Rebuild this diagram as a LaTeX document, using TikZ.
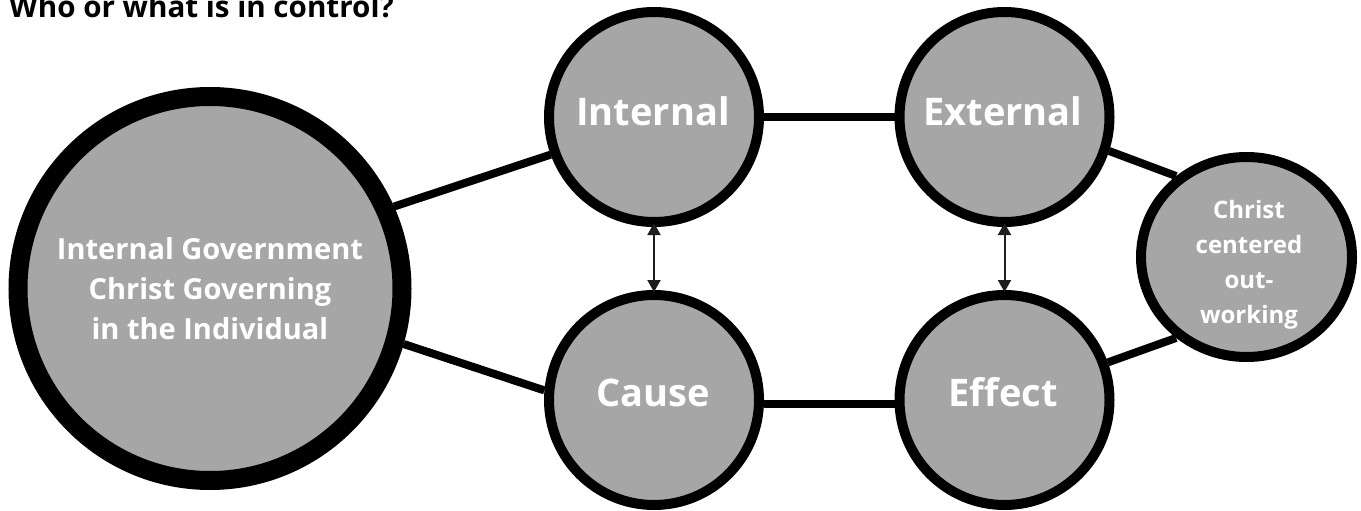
\documentclass[tikz,border=0pt]{standalone}
\usepackage{fontspec}
\setmainfont{Open Sans}
\usetikzlibrary{arrows.meta,shapes.geometric}
\definecolor{circfill}{HTML}{A6A6A6}
\definecolor{arrowcol}{HTML}{1E1E1E}
\tikzset{
  circ/.style={circle, draw=black, fill=circfill, line width=10pt, minimum size=210pt, inner sep=0pt},
  bigcirc/.style={circle, draw=black, fill=circfill, line width=19pt, minimum size=384pt, inner sep=0pt},
  ovalcirc/.style={ellipse, draw=black, fill=circfill, line width=10pt, minimum width=211pt, minimum height=200pt, inner sep=0pt},
  lbl/.style={text=white, font=\bfseries\fontsize{38}{46}\selectfont, anchor=base, inner sep=0pt},
  biglbl/.style={text=white, font=\bfseries\fontsize{29}{40}\selectfont, align=center, anchor=base, inner sep=0pt},
  smalllbl/.style={text=white, font=\bfseries\fontsize{24}{35}\selectfont, align=center, anchor=base, inner sep=0pt},
  conn/.style={line width=8pt, draw=black},
  dblarrow/.style={line width=2pt, draw=arrowcol, {Triangle[length=12pt,width=13pt]}-{Triangle[length=12pt,width=13pt]}},
}
\begin{document}
\begin{tikzpicture}[x=1pt,y=-1pt]
\useasboundingbox (0,0) rectangle (1361,511);
% title
\node[anchor=base west, inner sep=0pt, font=\bfseries\fontsize{29.6}{34}\selectfont] (title) at (9,18) {Who or what is in control?};
% circles
\node[bigcirc] (big) at (210,288.5) {};
\node[circ] (int) at (654,117) {};
\node[circ] (ext) at (1004.5,117) {};
\node[circ] (cause) at (654,400) {};
\node[circ] (eff) at (1004.5,400) {};
\node[ovalcirc] (chr) at (1246.5,257) {};
% connectors
\draw[conn] (big.24) -- (int.200);
\draw[conn] (big.-16.5) -- (cause.175);
\draw[conn] (int.east) -- (ext.west);
\draw[conn] (cause.-2) -- (eff.182);
\draw[conn] (ext.-18) -- (chr.131);
\draw[conn] (eff.20) -- (chr.-131);
% double arrows
\draw[dblarrow, shorten <=-4pt, shorten >=-2pt] (int.south) -- (cause.north);
\draw[dblarrow, shorten <=-4pt, shorten >=-2pt] (ext.south) -- (eff.north);
% labels
\node[lbl] (tint) at (653,125) {Internal};
\node[lbl] (text) at (1003,125) {External};
\node[lbl] (tcause) at (653.5,406) {Cause};
\node[lbl] (teff) at (1003,406) {Effect};
\node[biglbl] (tbig) at (210,339) {Internal Government\\Christ Governing\\in the Individual};
\node[smalllbl] (tchr) at (1249,323) {Christ\\centered\\out-\\working};
\end{tikzpicture}
\end{document}
